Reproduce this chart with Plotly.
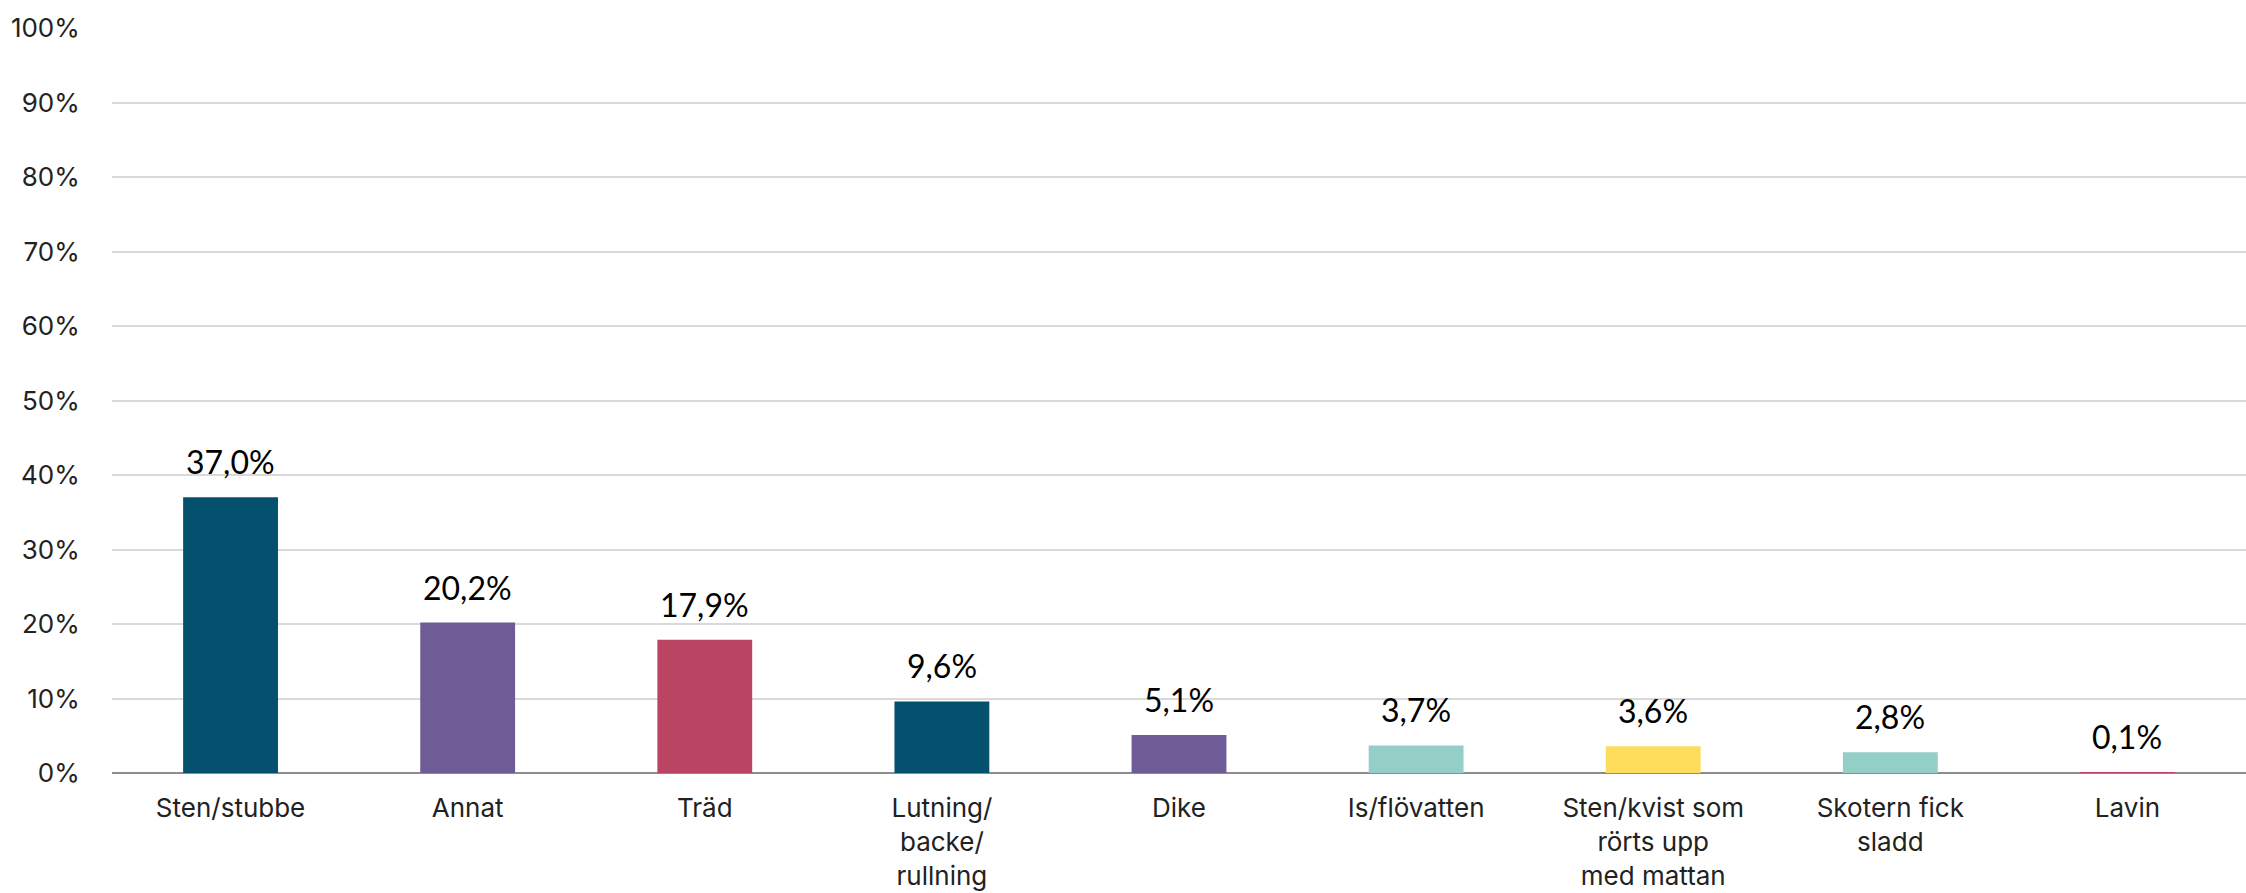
import plotly.graph_objects as go

categories = ["Sten/stubbe", "Annat", "Träd", "Lutning/<br>backe/<br>rullning", "Dike",
              "Is/flövatten", "Sten/kvist som<br>rörts upp<br>med mattan", "Skotern fick<br>sladd", "Lavin"]
values = [37.0, 20.2, 17.9, 9.6, 5.1, 3.7, 3.6, 2.8, 0.1]
labels = ["37,0%", "20,2%", "17,9%", "9,6%", "5,1%", "3,7%", "3,6%", "2,8%", "0,1%"]
colors = ["#04506F", "#6F5B96", "#BA4563", "#04506F", "#6F5B96",
          "#93CFC7", "#FFDD5C", "#93CFC7", "#BA4563"]
yticks = [0, 10, 20, 30, 40, 50, 60, 70, 80, 90, 100]
yticktext = [f"{v}%" for v in yticks]

x_idx = list(range(len(categories)))

fig = go.Figure()
fig.add_trace(go.Bar(
    x=x_idx, y=values, marker=dict(color=colors, line=dict(width=0)),
    width=0.4, hoverinfo="skip",
))

for xi, v, lab in zip(x_idx, values, labels):
    fig.add_annotation(x=xi, y=v, text=lab, showarrow=False, yanchor="bottom",
                       yshift=14, font=dict(family="Lato, Carlito, sans-serif", size=32, color="#000000"))

fig.update_layout(
    width=2246, height=893,
    margin=dict(l=112, r=0, t=28, b=120),
    paper_bgcolor="white", plot_bgcolor="white",
    showlegend=False,
    bargap=0.6,
)
fig.update_xaxes(
    tickmode="array", tickvals=x_idx, ticktext=categories,
    range=[-0.5, len(categories) - 0.5],
    tickfont=dict(family="Inter, Roboto, sans-serif", size=26, color="#222222"),
    ticks="outside", ticklen=12, tickcolor="rgba(0,0,0,0)",
    showline=False, showgrid=False, zeroline=False, automargin=False,
)
fig.update_yaxes(
    range=[0, 100], tickmode="array", tickvals=yticks, ticktext=yticktext,
    tickfont=dict(family="Inter, Roboto, sans-serif", size=26, color="#222222"),
    ticks="outside", ticklen=26, tickcolor="rgba(0,0,0,0)",
    showgrid=True, gridcolor="#D9D9D9", gridwidth=1.5,
    zeroline=True, zerolinecolor="#8C8C8C", zerolinewidth=2,
    showline=False, automargin=False,
)

fig.write_html("out.html", config={"displayModeBar": False},
               post_script="document.body.style.margin='0';document.body.style.overflow='hidden';")
